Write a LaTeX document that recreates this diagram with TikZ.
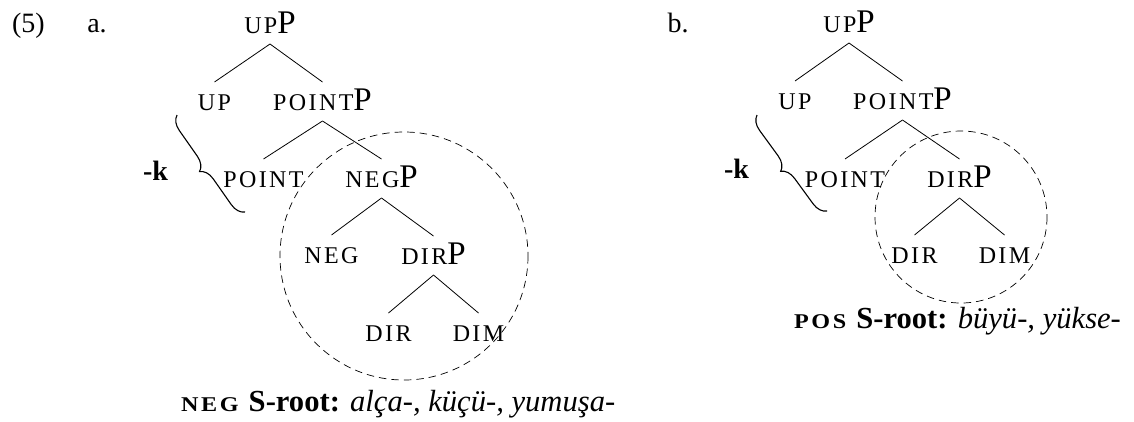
\documentclass[tikz,border=0pt]{standalone}
\usepackage{fontspec}
\setmainfont{Liberation Serif}
% spaced capitals standing in for small caps
\newfontfamily\lblscfont[LetterSpace=10]{Liberation Serif}
\newfontfamily\capscfont[LetterSpace=12,FakeStretch=1.15]{Liberation Serif}
\usetikzlibrary{calc,decorations.pathreplacing}

% category label in small caps, and its phrase (XP)
\newcommand\catsc[1]{{\fontsize{24}{24}\lblscfont #1}}
\newcommand\phr[1]{\catsc{#1}{\fontsize{33}{33}\selectfont P}}
% branch from a mother node down to a daughter node
\newcommand\branch[2]{\draw[treeline] ($(#1.base)+(0,11)$) -- ($(#2.base)+(0,-28)$);}

\begin{document}
\begin{tikzpicture}[x=1pt,y=-1pt,
  lbl/.style={inner sep=0pt,anchor=base,font=\fontsize{28}{28}\selectfont},
  caption/.style={inner sep=0pt,anchor=base west,font=\fontsize{30.6}{31}\selectfont},
  treeline/.style={line width=0.8pt},
  dashring/.style={line width=0.7pt,dash pattern=on 7.5pt off 5pt},
  bracket/.style={line width=1.1pt,decorate,decoration={brace,amplitude=14pt}}]
\useasboundingbox (0,0) rectangle (1134,421);

% ---- (5a) ----
\node[lbl] (num) at (28.5,32) {(5)};
\node[lbl] (la) at (97,32) {a.};
\node[lbl] (aUPP) at (270,33) {\phr{UP}};
\node[lbl] (aUP) at (214.5,110) {\catsc{UP}};
\node[lbl] (aPOINTP) at (322.5,110) {\phr{POINT}};
\node[lbl] (aPOINT) at (263.5,187) {\catsc{POINT}};
\node[lbl] (aNEGP) at (381.5,187) {\phr{NEG}};
\node[lbl] (aNEG) at (331.5,263) {\catsc{NEG}};
\node[lbl] (aDIRP) at (433.5,264) {\phr{DIR}};
\node[lbl] (aDIR) at (388.5,341) {\catsc{DIR}};
\node[lbl] (aDIM) at (478.5,341) {\catsc{DIM}};
\branch{aUPP}{aUP}
\branch{aUPP}{aPOINTP}
\branch{aPOINTP}{aPOINT}
\branch{aPOINTP}{aNEGP}
\branch{aNEGP}{aNEG}
\branch{aNEGP}{aDIRP}
\branch{aDIRP}{aDIR}
\branch{aDIRP}{aDIM}
\draw[dashring] (404,256) circle[radius=124];
\coordinate (aBrTop) at (177,115);
\coordinate (aBrBot) at (245,212);
\draw[bracket] (aBrBot) -- (aBrTop);
\node[lbl] (ak) at (155.5,180) {\textbf{-k}};
\node[caption] (capA) at (181,411)
  {{\bfseries\fontsize{21}{21}\capscfont NEG} \textbf{S-root:} \textit{alça-, küçü-, yumuşa-}};

% ---- (5b) ----
\node[lbl] (lb) at (678,32) {b.};
\node[lbl] (bUPP) at (849,32) {\phr{UP}};
\node[lbl] (bUP) at (795,109) {\catsc{UP}};
\node[lbl] (bPOINTP) at (902.5,109) {\phr{POINT}};
\node[lbl] (bPOINT) at (845,187) {\catsc{POINT}};
\node[lbl] (bDIRP) at (959.5,187) {\phr{DIR}};
\node[lbl] (bDIR) at (914.5,263) {\catsc{DIR}};
\node[lbl] (bDIM) at (1004.5,263) {\catsc{DIM}};
\branch{bUPP}{bUP}
\branch{bUPP}{bPOINTP}
\branch{bPOINTP}{bPOINT}
\branch{bPOINTP}{bDIRP}
\branch{bDIRP}{bDIR}
\branch{bDIRP}{bDIM}
\draw[dashring] (961,217) circle[radius=86];
\coordinate (bBrTop) at (757,115);
\coordinate (bBrBot) at (827,211);
\draw[bracket] (bBrBot) -- (bBrTop);
\node[lbl] (bk) at (736.5,178) {\textbf{-k}};
\node[caption] (capB) at (794,328)
  {{\bfseries\fontsize{21}{21}\capscfont POS} \textbf{S-root:} \textit{büyü-, yükse-}};
\end{tikzpicture}
\end{document}
